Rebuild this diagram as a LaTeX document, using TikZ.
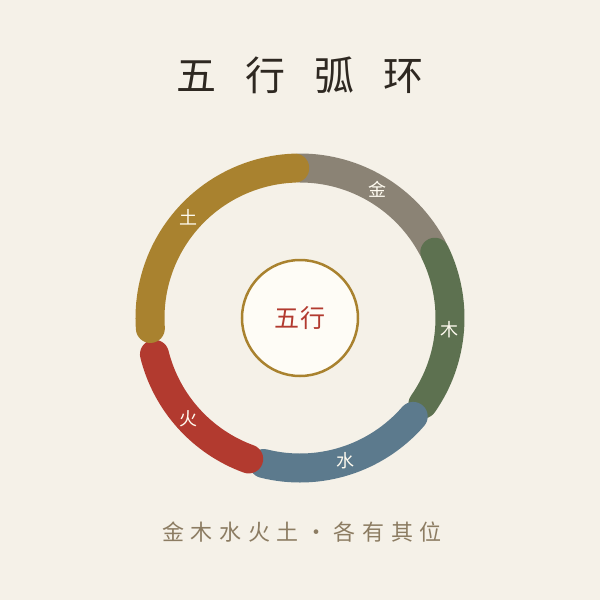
\documentclass[tikz,border=0pt]{standalone}
\usepackage{fontspec}
\usepackage{xcolor}
\usetikzlibrary{positioning}
\newfontfamily\cjk{Noto Sans CJK SC}
\newfontfamily\cjktitle[LetterSpace=72]{Noto Sans CJK SC}
\newfontfamily\cjkfoot[LetterSpace=30]{Noto Sans CJK SC}
\newfontfamily\cjkcore[LetterSpace=6]{Noto Sans CJK SC}
\definecolor{bgpaper}{HTML}{F5F1E8}
\definecolor{inkdark}{HTML}{2E2821}
\definecolor{jin}{HTML}{8B8375}
\definecolor{mu}{HTML}{5D7150}
\definecolor{shui}{HTML}{5C7A8D}
\definecolor{huo}{HTML}{B23A2F}
\definecolor{tu}{HTML}{A9822F}
\definecolor{corefill}{HTML}{FEFCF6}
\definecolor{footink}{HTML}{8C7C62}
\definecolor{labelink}{HTML}{FFFBF0}

\begin{document}
\begin{tikzpicture}[x=1pt,y=1pt]
        \tikzstyle{every node}+=[inner sep=0pt]
        \tikzstyle{ring}=[line width=29pt, line cap=round]
        \tikzstyle{arclabel}=[text=labelink, font=\cjk\fontsize{18}{18}\selectfont]
        \fill [bgpaper] (-300,-282) rectangle (300,318);
        \node [text=inkdark, font=\cjktitle\fontsize{40}{40}\selectfont] (title) at (0,243) {五行弧环};
        \draw [ring, jin] (28:150) arc [start angle=28, end angle=90, radius=150];
        \draw [ring, mu] (26:150) arc [start angle=26, end angle=-35, radius=150];
        \draw [ring, shui] (-41:150) arc [start angle=-41, end angle=-104, radius=150];
        \draw [ring, huo] (-110:150) arc [start angle=-110, end angle=-166, radius=150];
        \draw [ring, tu] (-176:150) arc [start angle=184, end angle=92, radius=150];
        \node [arclabel] (jinlabel) at (59:150) {金};
        \node [arclabel] (mulabel) at (-4.5:150) {木};
        \node [arclabel] (shuilabel) at (-72.5:150) {水};
        \node [arclabel] (huolabel) at (-138:150) {火};
        \node [arclabel] (tulabel) at (138:150) {土};
        \node [circle, draw=tu, line width=2.5pt, fill=corefill, minimum size=116pt, text=huo, font=\cjkcore\fontsize{25}{25}\selectfont] (core) at (0,0) {五行};
        \node [text=footink, font=\cjkfoot\fontsize{22}{22}\selectfont] (motto) at (2,-214) {金木水火土・各有其位};
\end{tikzpicture}
\end{document}
